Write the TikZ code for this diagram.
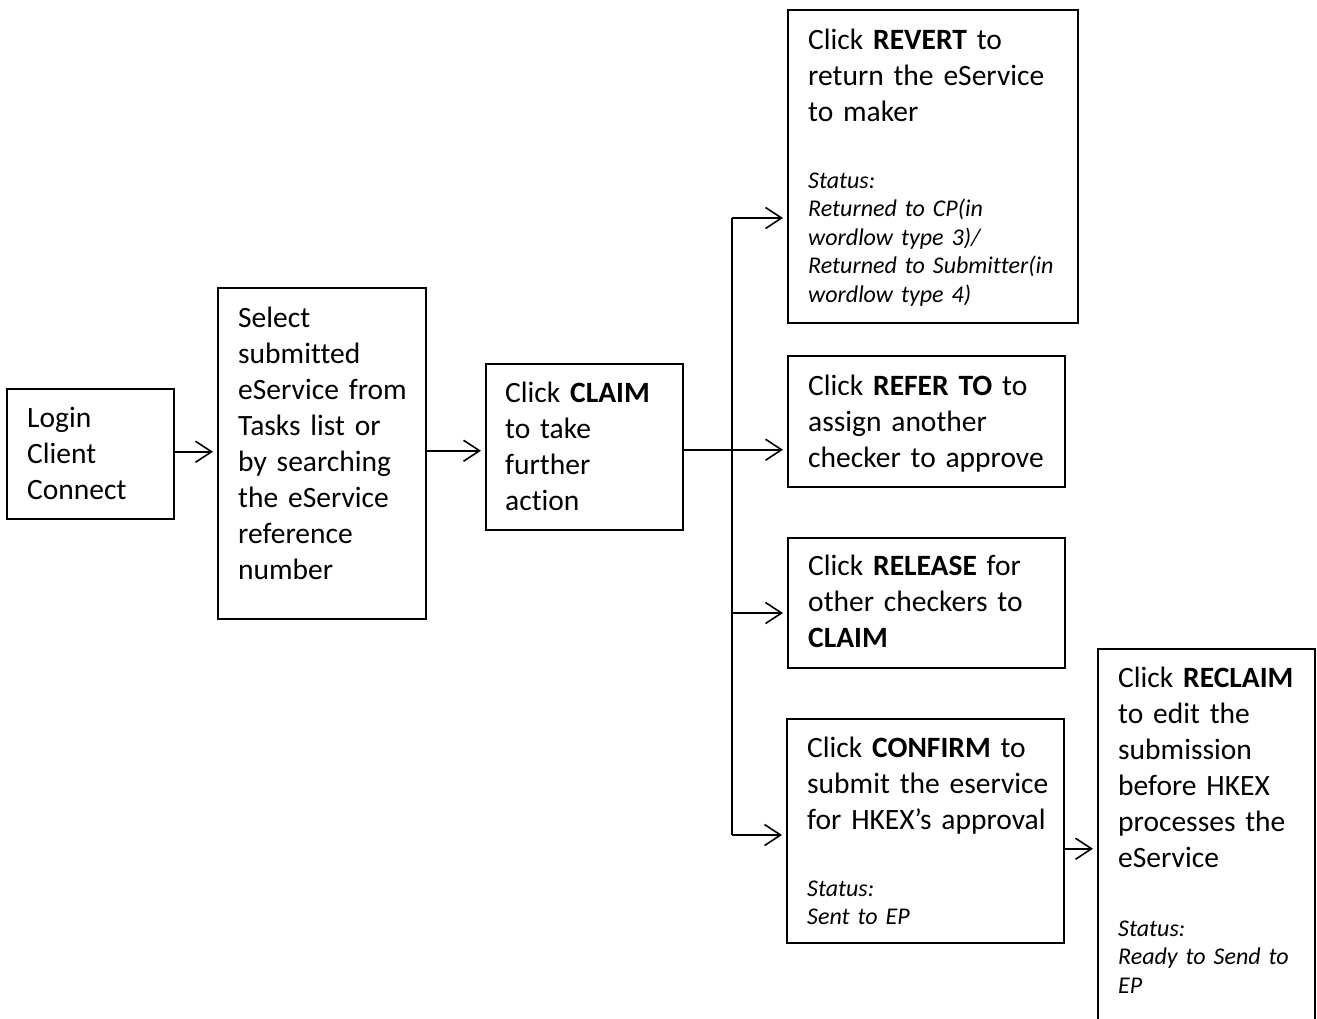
\documentclass[tikz,border=0pt]{standalone}
\usepackage{fontspec}
\setmainfont[Ligatures={NoCommon}]{Carlito}
\usetikzlibrary{arrows.meta}
\tikzset{
  boxn/.style={draw, line width=1.5pt, inner sep=0pt, anchor=north west},
  bodytxt/.style={anchor=base west, inner sep=0pt, align=left, text width=320pt,
    font=\fontsize{29.5}{36}\selectfont},
  stattxt/.style={anchor=base west, inner sep=0pt, align=left, text width=320pt,
    font=\fontsize{24}{28.6}\selectfont\itshape},
  arr/.style={line width=1.5pt, -{Straight Barb[length=16pt,width=21pt,line width=1.6pt]}, shorten >=4pt},
  trunk/.style={line width=1.5pt}
}
\begin{document}
\begin{tikzpicture}[x=1pt,y=-1pt]
\useasboundingbox (0,0) rectangle (1317,1018);
\clip (0,0) rectangle (1317,1018);
% boxes
\node[boxn, minimum width=167pt, minimum height=130pt] (login) at (6,388) {};
\node[boxn, minimum width=208pt, minimum height=331pt] (select) at (217,287) {};
\node[boxn, minimum width=197pt, minimum height=166pt] (claim) at (485,363) {};
\node[boxn, minimum width=290pt, minimum height=313pt] (revert) at (787,9) {};
\node[boxn, minimum width=277pt, minimum height=131pt] (refer) at (787,355) {};
\node[boxn, minimum width=277pt, minimum height=130pt] (release) at (787,537) {};
\node[boxn, minimum width=277pt, minimum height=224pt] (confirm) at (786,718) {};
\node[boxn, minimum width=217pt, minimum height=374pt] (reclaim) at (1097,648) {};
% texts
\node[bodytxt] (loginT) at (27,427) {Login\\Client\\Connect};
\node[bodytxt] (selectT) at (238,327) {Select\\submitted\\eService from\\Tasks list or\\by searching\\the eService\\reference\\number};
\node[bodytxt] (claimT) at (505,402) {Click \textbf{CLAIM}\\to take\\further\\action};
\node[bodytxt] (revertT) at (808,49) {Click \textbf{REVERT} to\\return the eService\\to maker};
\node[stattxt] (revertS) at (808,188) {Status:\\Returned to CP(in\\wordlow type 3)/\\Returned to Submitter(in\\wordlow type 4)};
\node[bodytxt] (referT) at (808,395) {Click \textbf{REFER TO} to\\assign another\\checker to approve};
\node[bodytxt] (releaseT) at (808,575) {Click \textbf{RELEASE} for\\other checkers to\\\textbf{CLAIM}};
\node[bodytxt] (confirmT) at (807,757) {Click \textbf{CONFIRM} to\\submit the eservice\\for HKEX’s approval};
\node[stattxt] (confirmS) at (807,896) {Status:\\Sent to EP};
\node[bodytxt] (reclaimT) at (1118,687) {Click \textbf{RECLAIM}\\to edit the\\submission\\before HKEX\\processes the\\eService};
\node[stattxt] (reclaimS) at (1118,936) {Status:\\Ready to Send to\\EP};
% connectors
\coordinate (l2s) at ([yshift=2pt]login.east);
\draw[arr] (l2s) -- (select.west |- l2s);
\coordinate (s2c) at ([yshift=2.5pt]select.east);
\draw[arr] (s2c) -- (claim.west |- s2c);
\coordinate (c2r) at ([yshift=-3pt]claim.east);
\draw[arr] (c2r) -- (refer.west |- c2r);
\coordinate (tTop) at (732,218);
\coordinate (tRel) at (732,613);
\coordinate (tBot) at (732,835);
\draw[trunk] (tTop) -- (tBot);
\draw[arr] (tTop) -- (revert.west |- tTop);
\draw[arr] (tRel) -- (release.west |- tRel);
\draw[arr] (tBot) -- (confirm.west |- tBot);
\coordinate (cf2rc) at ([yshift=-18pt]confirm.east);
\draw[arr] (cf2rc) -- (reclaim.west |- cf2rc);
\end{tikzpicture}
\end{document}
